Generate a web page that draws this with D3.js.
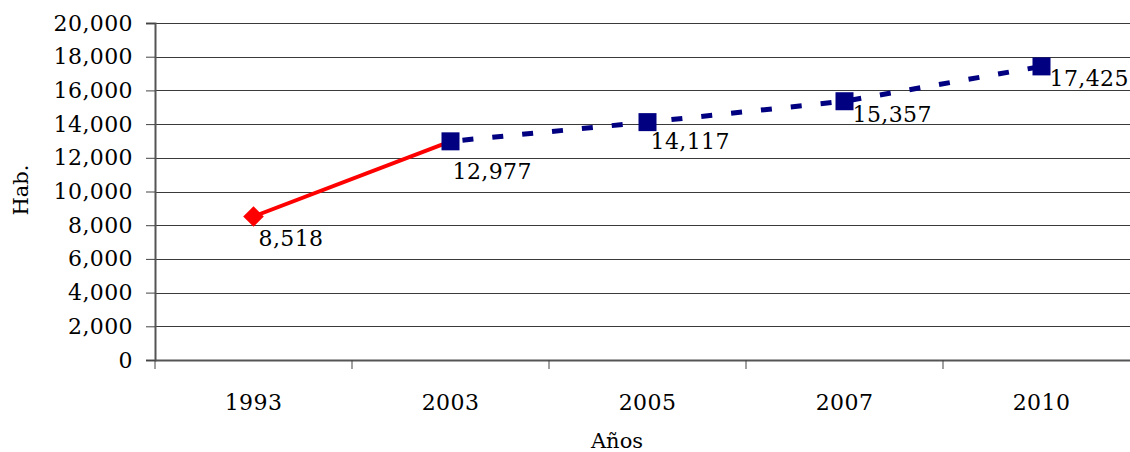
<!DOCTYPE html>
<html>
<head>
<meta charset="utf-8">
<script src="https://cdn.jsdelivr.net/npm/d3@7"></script>
<style>
  body { margin: 0; background: #fff; }
  text { font-family: "DejaVu Serif", serif; }
</style>
</head>
<body>
<div id="chart"></div>
<script>
// data
var years = ["1993", "2003", "2005", "2007", "2010"];
var population = [8518, 12977, 14117, 15357, 17425];
var censusYears = ["1993", "2003"];        // red solid line
var projectedYears = ["2003", "2005", "2007", "2010"]; // navy dashed line
var yTicks = [0, 2000, 4000, 6000, 8000, 10000, 12000, 14000, 16000, 18000, 20000];

// label nudges (px) so the value labels sit like the original
var labelDx = [5, 2, 3, 8, 8];
var labelDy = [30, 38, 27, 21, 20];

var W = 1130, H = 452;
var margin = { top: 23, left: 155 },
  width = 985,
  height = 337;

var valueOf = {};
years.forEach(function (y, i) { valueOf[y] = population[i]; });

var svg = d3.select("#chart").append("svg")
  .attr("width", W)
  .attr("height", H);

var g = svg.append("g")
  .attr("transform", "translate(" + margin.left + "," + margin.top + ")");

var x = d3.scaleBand().domain(years).range([0, width]);
var y = d3.scaleLinear().domain([0, 20000]).range([height, 0]);

//gridlines
g.append("g")
  .selectAll("line")
  .data(yTicks.filter(function (t) { return t > 0; }))
  .enter()
  .append("line")
  .attr("x1", 0)
  .attr("x2", width)
  .attr("y1", function (d) { return Math.round(y(d)) + 0.5; })
  .attr("y2", function (d) { return Math.round(y(d)) + 0.5; })
  .attr("stroke", "#3a3a3a")
  .attr("stroke-width", 1.2);

// Y axis
var yAxis = g.append("g")
  .call(d3.axisLeft(y).tickValues(yTicks).tickFormat(d3.format(",")).tickSize(9).tickPadding(13));
yAxis.select(".domain").attr("stroke", "#555").attr("stroke-width", 2);
yAxis.selectAll(".tick line").attr("stroke", "#444");
yAxis.selectAll(".tick text")
  .style("font-size", "22px")
  .style("letter-spacing", "0.4px")
  .attr("fill", "#000");

// X axis
var xAxis = g.append("g")
  .attr("transform", "translate(0," + height + ")")
  .call(d3.axisBottom(x).tickSize(0).tickPadding(34));
xAxis.select(".domain").attr("stroke", "#555").attr("stroke-width", 2);
xAxis.selectAll(".tick text")
  .style("font-size", "22px")
  .style("letter-spacing", "0.4px")
  .attr("fill", "#000");
// tick marks on band edges
xAxis.selectAll(".edge")
  .data(years.concat(["end"]))
  .enter()
  .append("line")
  .attr("class", "edge")
  .attr("x1", function (d, i) { return i < years.length ? x(d) : x(years[years.length - 1]) + x.bandwidth(); })
  .attr("x2", function (d, i) { return i < years.length ? x(d) : x(years[years.length - 1]) + x.bandwidth(); })
  .attr("y1", 0)
  .attr("y2", 9)
  .attr("stroke", "#444");

var cx = function (d) { return x(d) + x.bandwidth() / 2; };
var line = d3.line()
  .x(function (d) { return cx(d); })
  .y(function (d) { return y(valueOf[d]); });

// projected series, dashed navy
g.append("path")
  .datum(projectedYears)
  .attr("d", line)
  .attr("fill", "none")
  .attr("stroke", "#000080")
  .attr("stroke-width", 5)
  .attr("stroke-dasharray", "11,19")
  .attr("stroke-dashoffset", -12);

// census series, solid red
g.append("path")
  .datum(censusYears)
  .attr("d", line)
  .attr("fill", "none")
  .attr("stroke", "#ff0000")
  .attr("stroke-width", 4);

// square markers
g.selectAll(".sq")
  .data(projectedYears)
  .enter()
  .append("rect")
  .attr("class", "sq")
  .attr("x", function (d) { return cx(d) - 9; })
  .attr("y", function (d) { return y(valueOf[d]) - 9; })
  .attr("width", 18)
  .attr("height", 18)
  .attr("fill", "#000080");

// diamond marker
g.append("path")
  .attr("d", d3.symbol().type(d3.symbolDiamond2).size(270))
  .attr("transform", "translate(" + cx(censusYears[0]) + "," + y(valueOf[censusYears[0]]) + ")")
  .attr("fill", "#ff0000");

// value labels
g.selectAll(".lbl")
  .data(years)
  .enter()
  .append("text")
  .attr("class", "lbl")
  .attr("x", function (d, i) { return cx(d) + labelDx[i]; })
  .attr("y", function (d, i) { return y(valueOf[d]) + labelDy[i]; })
  .style("font-size", "22px")
  .style("letter-spacing", "0.4px")
  .attr("fill", "#000")
  .text(function (d) { return d3.format(",")(valueOf[d]); });

// axis titles
svg.append("text")
  .attr("transform", "translate(28,190) rotate(-90)")
  .attr("text-anchor", "middle")
  .style("font-size", "21px")
  .attr("fill", "#000")
  .text("Hab.");

svg.append("text")
  .attr("x", 617)
  .attr("y", 448)
  .attr("text-anchor", "middle")
  .style("font-size", "21px")
  .attr("fill", "#000")
  .text("Años");
</script>
</body>
</html>
